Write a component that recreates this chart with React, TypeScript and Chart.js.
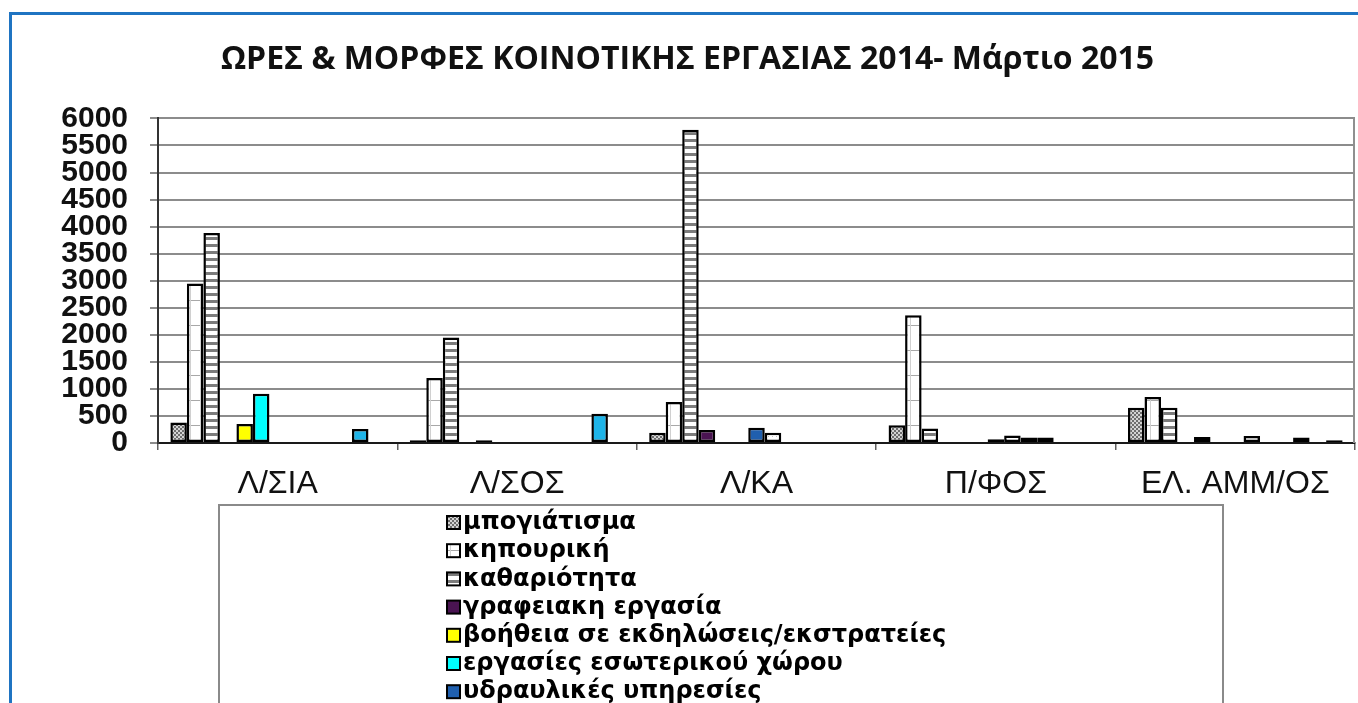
import React, { useEffect, useRef } from "react";
import { Chart, registerables } from "chart.js";

Chart.register(...registerables);

const categories = ["Λ/ΣΙΑ", "Λ/ΣΟΣ", "Λ/ΚΑ", "Π/ΦΟΣ", "ΕΛ. ΑΜΜ/ΟΣ"];

const seriesNames = [
  "μπογιάτισμα",
  "κηπουρική",
  "καθαριότητα",
  "γραφειακη εργασία",
  "βοήθεια σε εκδηλώσεις/εκστρατείες",
  "εργασίες εσωτερικού χώρου",
  "υδραυλικές υπηρεσίες",
  "ηλεκτρολογικές εργασίες",
  "ξυλουργικές εργασίες",
  "φροντίδα ηλικιωμένων",
  "μεταφορές",
  "εργασίες πληροφορικής",
  "άλλες εργασίες",
];

const painting = [380, 50, 190, 330, 650];
const gardening = [2950, 1200, 760, 2360, 850];
const cleaning = [3880, 1950, 5790, 270, 650];
const officeWork = [null, null, 240, null, null];
const eventHelp = [350, 50, null, null, 110];
const indoorWork = [910, null, null, null, null];
const plumbing = [null, null, 280, 70, null];
const electrical = [null, null, 190, 140, 130];
const carpentry = [null, null, null, 100, null];
const elderlyCare = [null, null, null, 100, null];
const transport = [null, null, null, null, 100];
const computing = [260, 540, null, null, null];
const other = [null, null, null, null, 50];

const seriesValues = [
  painting, gardening, cleaning, officeWork, eventHelp, indoorWork, plumbing,
  electrical, carpentry, elderlyCare, transport, computing, other,
];

const yTicksMax = 6000;
const yTickStep = 500;

const titleText = "ΩΡΕΣ & ΜΟΡΦΕΣ ΚΟΙΝΟΤΙΚΗΣ ΕΡΓΑΣΙΑΣ 2014- Μάρτιο 2015";

function makePattern(w: number, h: number, draw: (g: CanvasRenderingContext2D) => void) {
  const c = document.createElement("canvas");
  c.width = w;
  c.height = h;
  const g = c.getContext("2d")!;
  draw(g);
  return g.createPattern(c, "repeat")!;
}

export default function App() {
  const ref = useRef<HTMLCanvasElement | null>(null);

  useEffect(() => {
    const canvas = ref.current!;
    const checker = makePattern(4, 4, (g) => {
      g.fillStyle = "#d4d4d4";
      g.fillRect(0, 0, 4, 4);
      g.fillStyle = "#6e6e6e";
      g.fillRect(0, 0, 2, 2);
      g.fillRect(2, 2, 2, 2);
    });
    const grid = makePattern(10, 25, (g) => {
      g.fillStyle = "#ffffff";
      g.fillRect(0, 0, 10, 25);
      g.fillStyle = "#a8a8a8";
      g.fillRect(0, 0, 10, 1);
      g.fillStyle = "#d0d0d0";
      g.fillRect(0, 0, 1, 25);
    });
    const stripes = makePattern(4, 7, (g) => {
      g.fillStyle = "#7c7c7c";
      g.fillRect(0, 0, 4, 7);
      g.fillStyle = "#ffffff";
      g.fillRect(0, 2, 4, 4);
    });
    const dots = makePattern(4, 4, (g) => {
      g.fillStyle = "#ffffff";
      g.fillRect(0, 0, 4, 4);
      g.fillStyle = "#c0c0c0";
      g.fillRect(0, 0, 1, 1);
    });

    const fills: (string | CanvasPattern)[] = [
      checker, grid, stripes, "#4a1452", "#ffff00", "#00ffff", "#1f5fae",
      dots, "#23207a", "#b030d0", "#3a3a3a", "#1eb4e8", "#202020",
    ];

    const frame = {
      id: "frame",
      beforeDatasetsDraw(chart: any) {
        const { ctx, chartArea } = chart;
        ctx.save();
        ctx.strokeStyle = "#8f8f8f";
        ctx.lineWidth = 2;
        ctx.beginPath();
        ctx.moveTo(chartArea.right - 1, chartArea.top);
        ctx.lineTo(chartArea.right - 1, chartArea.bottom);
        ctx.stroke();
        ctx.restore();
      },
    };

    const boxLegend = {
      id: "boxLegend",
      afterDraw(chart: any) {
        const { ctx } = chart;
        ctx.save();
        ctx.strokeStyle = "#8a8a8a";
        ctx.lineWidth = 2;
        ctx.strokeRect(219, 505, 1004, 480);
        ctx.font = 'bold 24px "DejaVu Sans"';
        ctx.textBaseline = "middle";
        ctx.textAlign = "left";
        chart.data.datasets.forEach((ds: any, i: number) => {
          const y = 522 + i * 28.2;
          ctx.fillStyle = ds.backgroundColor;
          ctx.fillRect(447, y - 6, 13, 13);
          ctx.strokeStyle = "#000";
          ctx.lineWidth = 2;
          ctx.strokeRect(447, y - 6, 13, 13);
          ctx.fillStyle = "#000";
          ctx.fillText(ds.label, 463, y + 1);
        });
        ctx.restore();
      },
    };

    const chart = new Chart(canvas, {
      type: "bar",
      data: {
        labels: categories,
        datasets: seriesNames.map((name, i) => ({
          label: name,
          data: seriesValues[i],
          backgroundColor: fills[i],
          borderColor: "#000000",
          borderWidth: 2.5,
          borderSkipped: false,
          barPercentage: 1,
          categoryPercentage: 13 / 14.5,
        })),
      },
      options: {
        responsive: false,
        animation: false,
        layout: { padding: { left: 20, right: 3, top: 0, bottom: 397 } },
        plugins: {
          legend: { display: false },
          tooltip: { enabled: false },
          title: {
            display: true,
            text: titleText,
            color: "#111",
            font: { family: '"Open Sans"', size: 32, weight: "bold" },
            padding: { top: 41, bottom: 39 },
          },
        },
        scales: {
          x: {
            offset: true,
            grid: {
              display: true,
              drawOnChartArea: false,
              drawTicks: true,
              tickLength: 7,
              color: "#606060",
              lineWidth: 1.5,
            },
            border: { display: true, color: "#1a1a1a", width: 2 },
            ticks: {
              font: { family: '"Liberation Sans", Arial', size: 32 },
              color: "#111",
              padding: 15,
              maxRotation: 0,
              autoSkip: false,
            },
            afterFit: (s: any) => {
              s.height = 60;
            },
          },
          y: {
            min: 0,
            max: yTicksMax,
            ticks: {
              stepSize: yTickStep,
              autoSkip: false,
              callback: (v: any) => String(v),
              font: { family: '"Liberation Sans", Arial', size: 30, weight: "bold" },
              color: "#111",
              padding: 22,
            },
            grid: { color: "#8c8c8c", lineWidth: 2, tickLength: 8 },
            border: { color: "#333", width: 2 },
            afterFit: (s: any) => {
              s.width = 138;
            },
          },
        },
      },
      plugins: [frame, boxLegend],
    });
    return () => chart.destroy();
  }, []);

  return (
    <div
      style={{
        position: "fixed",
        left: 0,
        top: 0,
        width: 1358,
        height: 703,
        overflow: "hidden",
        background: "#fff",
      }}
    >
      <div
        style={{
          position: "absolute",
          left: 9,
          top: 12,
          width: 1400,
          height: 800,
          border: "3px solid #1f74c2",
          boxSizing: "border-box",
        }}
      />
      <canvas
        ref={ref}
        width={1358}
        height={900}
        style={{ position: "absolute", left: 0, top: 0 }}
      />
    </div>
  );
}
